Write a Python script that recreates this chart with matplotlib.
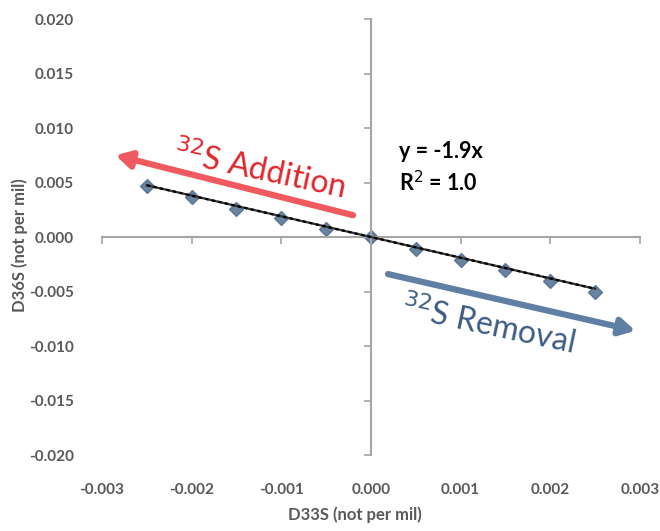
import numpy as np
import matplotlib.pyplot as plt

plt.rcParams['font.family'] = ['Lato', 'DejaVu Sans']

# data
d33s = [-0.0025, -0.0020, -0.0015, -0.0010, -0.0005, 0.0,
        0.0005, 0.0010, 0.0015, 0.0020, 0.0025]
d36s = [0.0047, 0.0037, 0.0026, 0.0017, 0.0007, 0.0,
        -0.0011, -0.0021, -0.0030, -0.0040, -0.0050]
slope = -1.9
x_ticks = [-0.003, -0.002, -0.001, 0.0, 0.001, 0.002, 0.003]
y_ticks = [-0.020, -0.015, -0.010, -0.005, 0.0, 0.005, 0.010, 0.015, 0.020]

gray = '#595959'
axis_gray = '#A6A6A6'

fig = plt.figure(figsize=(6.6, 5.31), dpi=100)
ax = fig.add_axes([0.1545, 0.1431, 0.8152, 0.8211])
ax.set_xlim(-0.003, 0.003)
ax.set_ylim(-0.020, 0.020)

# axes crossing at zero, like excel
for s in ['top', 'right']:
    ax.spines[s].set_visible(False)
ax.spines['left'].set_position(('data', 0))
ax.spines['bottom'].set_position(('data', 0))
for s in ['left', 'bottom']:
    ax.spines[s].set_color(axis_gray)
    ax.spines[s].set_linewidth(1.5)
ax.set_xticks(x_ticks)
ax.set_yticks(y_ticks)
ax.tick_params(labelbottom=False, labelleft=False, direction='out',
               length=5, width=1.2, color=axis_gray)

# tick labels at the plot edges
secx = ax.secondary_xaxis(0)
secx.set_xticks(x_ticks)
secx.set_xticklabels([f'{v:.3f}' for v in x_ticks])
secx.spines['bottom'].set_visible(False)
secx.tick_params(length=0, pad=20, labelsize=11, labelcolor=gray)
for t in secx.get_xticklabels():
    t.set_fontweight('bold')

secy = ax.secondary_yaxis(0)
secy.set_yticks(y_ticks)
secy.set_yticklabels([f'{v:.3f}' for v in y_ticks])
secy.spines['left'].set_visible(False)
secy.tick_params(length=0, pad=20, labelsize=11, labelcolor=gray)
for t in secy.get_yticklabels():
    t.set_fontweight('bold')

fig.text(355 / 660, 1 - 515 / 531, 'D33S (not per mil)', fontsize=12,
         fontweight='bold', color=gray, ha='center', va='center')
fig.text(20 / 660, 1 - 245 / 531, 'D36S (not per mil)', fontsize=12,
         fontweight='bold', color=gray, ha='center', va='center',
         rotation=90)

# series + linear trendline
x = np.array(d33s)
ax.plot(x, slope * x, color='#333333', lw=1.6, zorder=3)
ax.plot(x, slope * x, color='black', lw=1.6, ls=(0, (1.5, 1.5)), zorder=4)
ax.plot(d33s, d36s, ls='none', marker='D', ms=7, color='#4F6D8F',
        alpha=0.85, zorder=2)

ax.text(0.00078, 0.0078, 'y = -1.9x', fontsize=15.5, fontweight='bold',
        ha='center', va='center', color='black')
ax.text(0.00075, 0.0050, 'R$^2$ = 1.0', fontsize=15.5, fontweight='bold',
        ha='center', va='center', color='black')

# arrows
ax.annotate('', xy=(-0.00285, 0.0075), xytext=(-0.0002, 0.0020),
            arrowprops=dict(arrowstyle='-|>,head_length=0.9,head_width=0.5',
                            color='#F05A5E', lw=4.5, shrinkA=0, shrinkB=0))
ax.annotate('', xy=(0.00295, -0.0086), xytext=(0.00019, -0.0034),
            arrowprops=dict(arrowstyle='-|>,head_length=0.9,head_width=0.5',
                            color='#5F7FA5', lw=4.5, shrinkA=0, shrinkB=0))
ax.text(-0.00124, 0.0061, '$^{32}$S Addition', fontsize=23, color='#E3242B',
        rotation=-12, ha='center', va='center')
ax.text(0.0013, -0.0081, '$^{32}$S Removal', fontsize=23, color='#3D5C84',
        rotation=-12, ha='center', va='center')

fig.savefig('out.png', dpi=100)
